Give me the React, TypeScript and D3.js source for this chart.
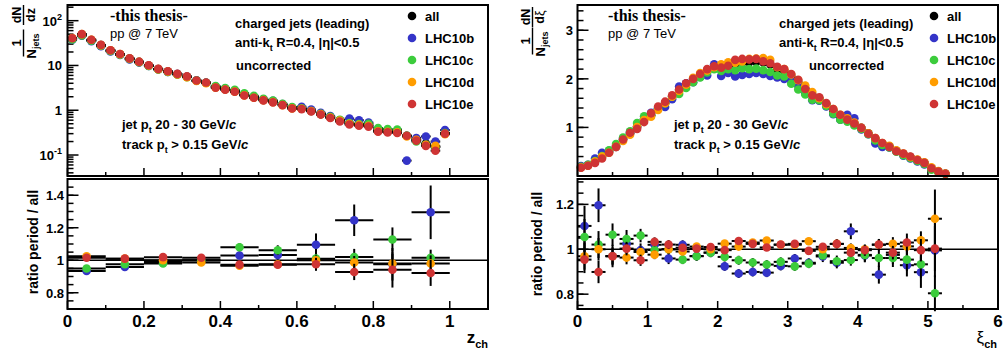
import React from 'react';
import * as d3 from 'd3';

const FONT = "'Liberation Sans', Arial, Helvetica, sans-serif";
const SERIF = "'Liberation Serif', 'Times New Roman', serif";

const seriesNames = ['all', 'LHC10b', 'LHC10c', 'LHC10d', 'LHC10e'];
const seriesColors = ['#000000', '#3434c8', '#3ccc3c', '#ff9d00', '#cf3434'];

// ---------- z_ch distribution (bins of 0.025) ----------
const zBins = d3.range(40).map((i) => 0.0125 + 0.025 * i);
const zAll = [40, 49, 37, 28.5, 21.5, 17.8, 14.2, 12, 9.9, 8.3, 7.3, 6.4, 5.6, 4.6, 4.1, 3.3, 2.95, 2.65, 2.2, 1.95, 1.7, 1.55, 1.33, 1.12, 1.08, 0.96, 0.82, 0.7, 0.6, 0.52, 0.48, 0.46, 0.35, 0.34, 0.33, 0.27, 0.22, 0.18, 0.15, 0.31];
const zB = [37.5, 46, 35, 26.8, 20.6, 17.1, 13.6, 11.6, 9.8, 8.2, 7.2, 6.4, 5.6, 4.6, 4.1, 3.4, 3.05, 2.75, 2.25, 2.0, 1.75, 1.62, 1.37, 1.15, 1.2, 1.04, 0.88, 0.74, 0.6, 0.65, 0.6, 0.53, 0.36, 0.33, 0.34, 0.075, 0.24, 0.26, 0.2, 0.36];
const zC = [38, 47, 35.5, 27.5, 21, 17.3, 14, 11.8, 9.7, 8.1, 7.2, 6.3, 5.5, 4.6, 4.1, 3.45, 3.15, 2.85, 2.4, 2.1, 1.8, 1.65, 1.4, 1.18, 1.1, 0.96, 0.83, 0.71, 0.61, 0.52, 0.49, 0.5, 0.4, 0.38, 0.37, 0.27, 0.2, 0.17, 0.15, 0.31];
const zD = [41, 50, 37.5, 28.5, 21.8, 17.9, 14.3, 12, 10, 8.3, 7.3, 6.3, 5.5, 4.5, 4.0, 3.2, 2.9, 2.6, 2.15, 1.9, 1.68, 1.52, 1.3, 1.1, 1.08, 0.96, 0.82, 0.69, 0.59, 0.5, 0.47, 0.45, 0.34, 0.33, 0.32, 0.26, 0.22, 0.17, 0.16, 0.29];
const zE = [40.5, 50, 37.5, 28.8, 21.8, 18, 14.4, 12.1, 10.1, 8.4, 7.4, 6.5, 5.7, 4.6, 4.15, 3.2, 2.88, 2.58, 2.14, 1.9, 1.66, 1.5, 1.3, 1.09, 1.06, 0.94, 0.8, 0.67, 0.56, 0.48, 0.45, 0.43, 0.33, 0.32, 0.31, 0.27, 0.21, 0.16, 0.125, 0.3];
const zRelErr = [0.01, 0.01, 0.01, 0.01, 0.01, 0.01, 0.01, 0.01, 0.01, 0.01, 0.012, 0.012, 0.013, 0.014, 0.015, 0.016, 0.017, 0.018, 0.02, 0.02, 0.022, 0.024, 0.026, 0.028, 0.03, 0.032, 0.035, 0.038, 0.04, 0.045, 0.05, 0.05, 0.06, 0.06, 0.06, 0.1, 0.08, 0.09, 0.1, 0.08];

// ---------- z_ch ratio (bins of 0.1) ----------
const zRatioBins = d3.range(10).map((i) => 0.05 + 0.1 * i);
const zRatioB = [0.934, 0.959, 0.99, 1.0, 1.029, 1.033, 1.095, 1.246, 0.975, 1.295];
const zRatioC = [0.949, 0.975, 0.98, 1.0, 1.08, 1.062, 1.01, 1.02, 1.128, 1.015];
const zRatioD = [1.025, 1.01, 1.0, 0.986, 0.966, 0.975, 1.0, 0.986, 0.98, 0.98];
const zRatioE = [1.015, 1.01, 1.019, 1.015, 0.973, 0.972, 0.975, 0.928, 0.942, 0.922];
const zRatioErrB = [0.005, 0.006, 0.007, 0.01, 0.02, 0.03, 0.07, 0.097, 0.1, 0.165];
const zRatioErrC = [0.005, 0.006, 0.008, 0.01, 0.025, 0.03, 0.045, 0.05, 0.074, 0.05];
const zRatioErrD = [0.004, 0.005, 0.006, 0.008, 0.012, 0.02, 0.03, 0.04, 0.06, 0.05];
const zRatioErrE = [0.004, 0.005, 0.006, 0.015, 0.015, 0.02, 0.04, 0.05, 0.11, 0.08];

// ---------- xi_ch distribution (bins of 0.1) ----------
const xiBins = d3.range(53).map((i) => 0.05 + 0.1 * i);
const xiAll = [0.18, 0.22, 0.3, 0.4, 0.5, 0.62, 0.75, 0.88, 1.02, 1.17, 1.25, 1.39, 1.5, 1.63, 1.77, 1.9, 2.0, 2.09, 2.17, 2.24, 2.24, 2.28, 2.3, 2.33, 2.34, 2.35, 2.34, 2.3, 2.2, 2.16, 2.05, 1.93, 1.8, 1.67, 1.6, 1.48, 1.35, 1.23, 1.18, 1.09, 0.99, 0.88, 0.76, 0.67, 0.61, 0.52, 0.45, 0.39, 0.33, 0.27, 0.16, 0.09, 0.045];
const xiB = [0.207, 0.233, 0.36, 0.48, 0.52, 0.6, 0.77, 0.9, 1.0, 1.18, 1.3, 1.4, 1.42, 1.58, 1.84, 1.91, 1.93, 2.04, 2.07, 2.3, 2.06, 2.12, 2.05, 2.08, 2.1, 2.12, 2.1, 2.06, 2.03, 2.0, 1.96, 1.86, 1.7, 1.56, 1.55, 1.43, 1.27, 1.16, 1.26, 1.19, 0.96, 0.86, 0.67, 0.6, 0.59, 0.51, 0.42, 0.36, 0.3, 0.24, 0.16, 0.09, 0.045];
const xiC = [0.19, 0.23, 0.31, 0.41, 0.53, 0.66, 0.79, 0.92, 1.09, 1.23, 1.25, 1.39, 1.5, 1.63, 1.69, 1.81, 1.93, 2.03, 2.13, 2.2, 2.16, 2.2, 2.18, 2.22, 2.2, 2.21, 2.18, 2.14, 2.07, 2.05, 1.9, 1.78, 1.68, 1.57, 1.56, 1.44, 1.28, 1.16, 1.12, 1.04, 0.97, 0.86, 0.73, 0.64, 0.59, 0.5, 0.43, 0.37, 0.31, 0.25, 0.13, 0.072, 0.04];
const xiD = [0.175, 0.21, 0.3, 0.4, 0.48, 0.6, 0.72, 0.85, 1.01, 1.15, 1.22, 1.36, 1.5, 1.63, 1.75, 1.88, 2.02, 2.12, 2.17, 2.24, 2.3, 2.34, 2.33, 2.36, 2.41, 2.42, 2.43, 2.39, 2.24, 2.2, 2.09, 1.97, 1.86, 1.73, 1.6, 1.48, 1.38, 1.26, 1.19, 1.1, 0.99, 0.88, 0.78, 0.68, 0.62, 0.53, 0.46, 0.39, 0.34, 0.28, 0.18, 0.1, 0.05];
const xiE = [0.17, 0.21, 0.27, 0.36, 0.48, 0.6, 0.75, 0.89, 0.97, 1.11, 1.29, 1.43, 1.53, 1.66, 1.78, 1.91, 2.0, 2.1, 2.2, 2.26, 2.23, 2.27, 2.39, 2.41, 2.4, 2.41, 2.36, 2.32, 2.25, 2.2, 2.1, 1.98, 1.79, 1.66, 1.62, 1.5, 1.38, 1.26, 1.16, 1.08, 0.99, 0.87, 0.78, 0.68, 0.6, 0.51, 0.46, 0.4, 0.33, 0.27, 0.16, 0.09, 0.045];
const xiErr = [0.02, 0.02, 0.02, 0.02, 0.02, 0.02, 0.02, 0.02, 0.02, 0.025, 0.025, 0.025, 0.025, 0.03, 0.03, 0.03, 0.03, 0.03, 0.03, 0.035, 0.035, 0.035, 0.035, 0.035, 0.035, 0.035, 0.035, 0.035, 0.035, 0.035, 0.03, 0.03, 0.03, 0.03, 0.03, 0.03, 0.025, 0.025, 0.025, 0.025, 0.02, 0.02, 0.02, 0.02, 0.015, 0.015, 0.015, 0.012, 0.012, 0.01, 0.01, 0.008, 0.006];

// ---------- xi_ch ratio (bins of 0.2) ----------
const xiRatioBins = d3.range(26).map((i) => 0.1 + 0.2 * i);
const xiRatioB = [1.104, 1.196, 0.97, 1.025, 0.996, 1.02, 0.959, 1.02, 0.97, 0.985, 0.924, 0.892, 0.899, 0.896, 0.926, 0.959, 0.94, 0.968, 0.94, 1.08, 0.972, 0.887, 0.975, 0.929, 0.898, 0.995];
const xiRatioC = [1.055, 1.021, 1.065, 1.046, 1.061, 0.997, 1.0, 0.954, 0.969, 0.985, 0.966, 0.951, 0.941, 0.932, 0.944, 0.924, 0.936, 0.973, 0.947, 0.952, 0.975, 0.961, 0.961, 0.954, 0.933, 0.804];
const xiRatioD = [0.969, 1.0, 0.969, 0.963, 0.988, 0.976, 1.0, 0.99, 1.012, 1.0, 1.025, 1.012, 1.03, 1.039, 1.02, 1.02, 1.036, 1.0, 1.024, 1.006, 1.0, 1.02, 1.024, 1.013, 1.04, 1.136];
const xiRatioE = [0.954, 0.899, 0.969, 1.003, 0.951, 1.033, 1.021, 1.007, 1.003, 1.01, 0.996, 1.037, 1.024, 1.008, 1.021, 1.024, 0.993, 1.011, 1.024, 0.985, 0.996, 1.021, 0.985, 1.03, 0.996, 1.003];
const xiRatioErrB = [0.09, 0.075, 0.05, 0.04, 0.03, 0.025, 0.025, 0.02, 0.02, 0.02, 0.02, 0.02, 0.02, 0.02, 0.02, 0.02, 0.02, 0.025, 0.025, 0.035, 0.03, 0.04, 0.04, 0.05, 0.07, 0.12];
const xiRatioErrC = [0.08, 0.06, 0.05, 0.04, 0.03, 0.025, 0.02, 0.02, 0.02, 0.02, 0.02, 0.02, 0.02, 0.02, 0.02, 0.02, 0.02, 0.02, 0.025, 0.025, 0.03, 0.04, 0.04, 0.05, 0.06, 0.08];
const xiRatioErrD = [0.06, 0.05, 0.04, 0.03, 0.025, 0.02, 0.02, 0.015, 0.015, 0.015, 0.015, 0.015, 0.015, 0.015, 0.015, 0.015, 0.015, 0.015, 0.02, 0.02, 0.02, 0.025, 0.03, 0.035, 0.04, 0.13];
const xiRatioErrE = [0.06, 0.05, 0.035, 0.03, 0.025, 0.02, 0.02, 0.015, 0.015, 0.015, 0.015, 0.015, 0.015, 0.015, 0.015, 0.015, 0.015, 0.015, 0.02, 0.02, 0.025, 0.025, 0.03, 0.04, 0.05, 0.1];

// axis tick labels
const zTickLabels = ['0', '0.2', '0.4', '0.6', '0.8', '1'];
const xiTickLabels = ['0', '1', '2', '3', '4', '5', '6'];

type Pt = { x: number; y: number; xlo: number; xhi: number; ylo: number; yhi: number };

function Points({ pts, xs, ys, color }: { pts: Pt[]; xs: any; ys: any; color: string }) {
  return (
    <g>
      {pts.map((p, i) => (
        <g key={'e' + i} stroke="#000" strokeWidth={2}>
          <line x1={xs(p.xlo)} x2={xs(p.xhi)} y1={ys(p.y)} y2={ys(p.y)} />
          <line x1={xs(p.x)} x2={xs(p.x)} y1={ys(p.ylo)} y2={ys(p.yhi)} />
        </g>
      ))}
      {pts.map((p, i) => (
        <circle key={'m' + i} cx={xs(p.x)} cy={ys(p.y)} r={4.3} fill={color} />
      ))}
    </g>
  );
}

function SubText({ x, y, main, sub, size = 13, subSize = 9, weight = 'bold', anchor = 'start', rest, italicTail }: any) {
  return (
    <text x={x} y={y} fontFamily={FONT} fontSize={size} fontWeight={weight} textAnchor={anchor}>
      <tspan>{main}</tspan>
      <tspan dy={4} fontSize={subSize}>{sub}</tspan>
      <tspan dy={-4}>{rest}</tspan>
      {italicTail ? <tspan fontStyle="italic">{italicTail}</tspan> : null}
    </text>
  );
}

function Legend({ mx }: { mx: number }) {
  const ys = [16, 38, 60, 82, 104];
  return (
    <g>
      {seriesNames.map((n, i) => (
        <g key={n}>
          <circle cx={mx} cy={ys[i]} r={4.3} fill={seriesColors[i]} />
          <text x={mx + 13} y={ys[i] + 5} fontFamily={FONT} fontSize={13} fontWeight="bold">{n}</text>
        </g>
      ))}
    </g>
  );
}

function PanelText({ thesisX, collX, uncX, jetX }: any) {
  return (
    <g>
      <text x={thesisX} y={21} fontFamily={SERIF} fontSize={16} fontWeight="bold">-this thesis-</text>
      <text x={thesisX} y={37.5} fontFamily={FONT} fontSize={13}>pp @ 7 TeV</text>
      <text x={collX} y={28} fontFamily={FONT} fontSize={13} fontWeight="bold">charged jets (leading)</text>
      <SubText x={collX} y={47} main="anti-k" sub="t" rest=" R=0.4, |η|<0.5" />
      <text x={uncX} y={70} fontFamily={FONT} fontSize={13} fontWeight="bold">uncorrected</text>
      <SubText x={jetX} y={128.5} main="jet p" sub="t" rest=" 20 - 30 GeV/" italicTail="c" />
      <SubText x={jetX} y={149} main="track p" sub="t" rest=" > 0.15 GeV/" italicTail="c" />
    </g>
  );
}

function FracTitle({ cx, yLow, yHigh, dSym }: { cx: number; yLow: number; yHigh: number; dSym: React.ReactNode }) {
  return (
    <g fontFamily={FONT} fontWeight="bold" textAnchor="middle">
      <g transform={`translate(${cx},${yLow}) rotate(-90)`}>
        <text x={0} y={-3} fontSize={13}>1</text>
        <line x1={-13.5} x2={13.5} y1={0} y2={0} stroke="#000" strokeWidth={1.4} />
        <text x={-3} y={12} fontSize={13}>N<tspan dy={3} fontSize={9}>jets</tspan></text>
      </g>
      <g transform={`translate(${cx},${yHigh}) rotate(-90)`}>
        <text x={0} y={-3} fontSize={12.5}>dN</text>
        <line x1={-10} x2={10} y1={0} y2={0} stroke="#000" strokeWidth={1.4} />
        <text x={0} y={11} fontSize={12.5}>{dSym}</text>
      </g>
    </g>
  );
}

export default function App() {
  const L = { x0: 67.5, x1: 488 };
  const R = { x0: 577.5, x1: 998 };
  const T = { y0: 5, y1: 176 };
  const B = { y0: 179, y1: 309 };

  const xz = d3.scaleLinear().domain([0, 1.1]).range([L.x0, L.x1]);
  const yLog = d3.scaleLog().domain([0.034, 224]).range([T.y1, T.y0]);
  const yRL = d3.scaleLinear().domain([0.7, 1.5]).range([B.y1, B.y0]);
  const xxi = d3.scaleLinear().domain([0, 6]).range([R.x0, R.x1]);
  const yXi = d3.scaleLinear().domain([0, 3.52]).range([T.y1, T.y0]);
  const yRR = d3.scaleLinear().domain([0.734, 1.313]).range([B.y1, B.y0]);

  const zSeries = [zAll, zB, zC, zD, zE];
  const xiSeries = [xiAll, xiB, xiC, xiD, xiE];
  const zRatios = [zRatioB, zRatioC, zRatioD, zRatioE];
  const zRatioErrs = [zRatioErrB, zRatioErrC, zRatioErrD, zRatioErrE];
  const xiRatios = [xiRatioB, xiRatioC, xiRatioD, xiRatioE];
  const xiRatioErrs = [xiRatioErrB, xiRatioErrC, xiRatioErrD, xiRatioErrE];

  const zPts = (vals: number[]): Pt[] =>
    vals.map((v, i) => ({ x: zBins[i], y: v, xlo: zBins[i] - 0.0125, xhi: zBins[i] + 0.0125, ylo: v * (1 - zRelErr[i]), yhi: v * (1 + zRelErr[i]) }));
  const xiPts = (vals: number[]): Pt[] =>
    vals.map((v, i) => ({ x: xiBins[i], y: v, xlo: xiBins[i] - 0.05, xhi: xiBins[i] + 0.05, ylo: v - xiErr[i], yhi: v + xiErr[i] }));
  const rPts = (bins: number[], hw: number, vals: number[], errs: number[]): Pt[] =>
    vals.map((v, i) => ({ x: bins[i], y: v, xlo: bins[i] - hw, xhi: bins[i] + hw, ylo: v - errs[i], yhi: v + errs[i] }));

  // ticks
  const xMajL = d3.range(0, 1.001, 0.2);
  const xMinL = d3.range(0.1, 1.11, 0.2);
  const xMajR = d3.range(0, 6.001, 1);
  const xMinR = d3.range(0.5, 6, 1);
  const logMaj = [0.1, 1, 10, 100];
  const logMin: number[] = [];
  [-2, -1, 0, 1, 2].forEach((e) => {
    for (let k = 2; k <= 9; k++) {
      const v = k * Math.pow(10, e);
      if (v > 0.034 && v < 224) logMin.push(v);
    }
  });
  const rlMaj = [0.8, 1.0, 1.2, 1.4];
  const rlMajLab = ['0.8', '1', '1.2', '1.4'];
  const rlMin = d3.range(0.75, 1.5, 0.05);
  const xiYMaj = [1, 2, 3];
  const xiYMin = d3.range(0.2, 3.5, 0.2);
  const rrMaj = [0.8, 1.0, 1.2];
  const rrMajLab = ['0.8', '1', '1.2'];
  const rrMin = d3.range(0.75, 1.31, 0.05);

  const xTicks = (xs: any, maj: number[], min: number[], yb: number) => (
    <g stroke="#000" strokeWidth={1.5}>
      {maj.map((v, i) => <line key={'M' + i} x1={xs(v)} x2={xs(v)} y1={yb} y2={yb - 8} />)}
      {min.map((v, i) => <line key={'m' + i} x1={xs(v)} x2={xs(v)} y1={yb} y2={yb - 4} />)}
    </g>
  );
  const yTicks = (ys: any, maj: number[], min: number[], xl: number) => (
    <g stroke="#000" strokeWidth={1.5}>
      {maj.map((v, i) => <line key={'M' + i} x1={xl} x2={xl + 11} y1={ys(v)} y2={ys(v)} />)}
      {min.map((v, i) => <line key={'m' + i} x1={xl} x2={xl + 6} y1={ys(v)} y2={ys(v)} />)}
    </g>
  );

  const frame = (x0: number, x1: number, y0: number, y1: number) => (
    <rect x={x0} y={y0} width={x1 - x0} height={y1 - y0} fill="none" stroke="#000" strokeWidth={2} />
  );

  return (
    <svg width={1006} height={356} style={{ position: 'absolute', left: 0, top: 0, background: '#fff' }}>
      <rect x={0} y={0} width={1006} height={356} fill="#fff" />

      {/* ===== LEFT TOP ===== */}
      {yTicks(yLog, logMaj, logMin, L.x0)}
      {xTicks(xz, xMajL, xMinL, T.y1)}
      {zSeries.map((s, k) => <Points key={k} pts={zPts(s)} xs={xz} ys={yLog} color={seriesColors[k]} />)}
      {frame(L.x0, L.x1, T.y0, T.y1)}
      <g fontFamily={FONT} fontSize={13} fontWeight="bold" textAnchor="end">
        <text x={62} y={yLog(0.1) + 5}>10<tspan dy={-6} fontSize={9}>-1</tspan></text>
        <text x={62} y={yLog(1) + 5}>1</text>
        <text x={62} y={yLog(10) + 5}>10</text>
        <text x={62} y={yLog(100) + 5}>10<tspan dy={-6} fontSize={9}>2</tspan></text>
      </g>
      <FracTitle cx={23.5} yLow={43} yHigh={15} dSym="dz" />
      <PanelText thesisX={110} collX={235} uncX={236} jetX={122} />
      <Legend mx={412} />

      {/* ===== LEFT BOTTOM ===== */}
      {yTicks(yRL, rlMaj, rlMin, L.x0)}
      {xTicks(xz, xMajL, xMinL, B.y1)}
      <line x1={L.x0} x2={L.x1} y1={yRL(1)} y2={yRL(1)} stroke="#000" strokeWidth={1.5} />
      {zRatios.map((s, k) => (
        <Points key={k} pts={rPts(zRatioBins, 0.05, s, zRatioErrs[k])} xs={xz} ys={yRL} color={seriesColors[k + 1]} />
      ))}
      {frame(L.x0, L.x1, B.y0, B.y1)}
      <g fontFamily={FONT} fontSize={13} fontWeight="bold" textAnchor="end">
        {rlMaj.map((v, i) => <text key={i} x={64} y={yRL(v) + 5}>{rlMajLab[i]}</text>)}
      </g>
      <g fontFamily={FONT} fontSize={17} fontWeight="bold" textAnchor="middle">
        {xMajL.map((v, i) => <text key={i} x={xz(v)} y={327}>{zTickLabels[i]}</text>)}
      </g>
      <text transform="translate(38,242) rotate(-90)" fontFamily={FONT} fontSize={14} fontWeight="bold" textAnchor="middle">ratio period / all</text>
      <text x={488} y={343} fontFamily={FONT} fontSize={17} fontWeight="bold" textAnchor="end">z<tspan dy={5} fontSize={11}>ch</tspan></text>

      {/* ===== RIGHT TOP ===== */}
      {yTicks(yXi, xiYMaj, xiYMin, R.x0)}
      {xTicks(xxi, xMajR, xMinR, T.y1)}
      {xiSeries.map((s, k) => <Points key={k} pts={xiPts(s)} xs={xxi} ys={yXi} color={seriesColors[k]} />)}
      {frame(R.x0, R.x1, T.y0, T.y1)}
      <g fontFamily={FONT} fontSize={13} fontWeight="bold" textAnchor="end">
        {xiYMaj.map((v, i) => <text key={i} x={573} y={yXi(v) + 5}>{String(v)}</text>)}
      </g>
      <FracTitle cx={532.5} yLow={41} yHigh={17} dSym={<>d<tspan fontWeight="normal">ξ</tspan></>} />
      <PanelText thesisX={608} collX={779} uncX={809} jetX={674} />
      <Legend mx={934} />

      {/* ===== RIGHT BOTTOM ===== */}
      {yTicks(yRR, rrMaj, rrMin, R.x0)}
      {xTicks(xxi, xMajR, xMinR, B.y1)}
      <line x1={R.x0} x2={R.x1} y1={yRR(1)} y2={yRR(1)} stroke="#000" strokeWidth={1.5} />
      {xiRatios.map((s, k) => (
        <Points key={k} pts={rPts(xiRatioBins, 0.1, s, xiRatioErrs[k])} xs={xxi} ys={yRR} color={seriesColors[k + 1]} />
      ))}
      {frame(R.x0, R.x1, B.y0, B.y1)}
      <g fontFamily={FONT} fontSize={13} fontWeight="bold" textAnchor="end">
        {rrMaj.map((v, i) => <text key={i} x={574} y={yRR(v) + 5}>{rrMajLab[i]}</text>)}
      </g>
      <g fontFamily={FONT} fontSize={17} fontWeight="bold" textAnchor="middle">
        {xMajR.map((v, i) => <text key={i} x={xxi(v)} y={327}>{xiTickLabels[i]}</text>)}
      </g>
      <text transform="translate(542,244) rotate(-90)" fontFamily={FONT} fontSize={14} fontWeight="bold" textAnchor="middle">ratio period / all</text>
      <text x={997} y={343} fontFamily={FONT} fontSize={17} textAnchor="end">ξ<tspan dy={5} fontSize={11} fontWeight="bold">ch</tspan></text>
    </svg>
  );
}
